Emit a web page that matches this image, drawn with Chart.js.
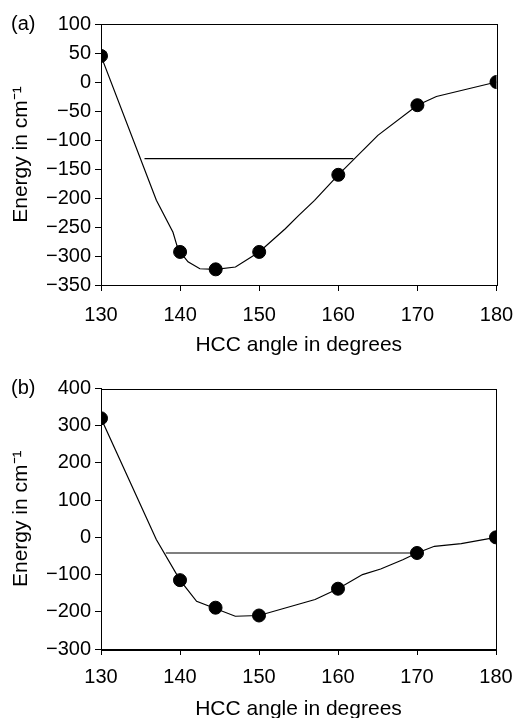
<!DOCTYPE html>
<html>
<head>
<meta charset="utf-8">
<script src="https://cdn.jsdelivr.net/npm/chart.js@4/dist/chart.umd.min.js"></script>
<style>
  body { margin: 0; background: #fff; }
  .panel { position: absolute; left: 0; width: 517px; }
  .tag { position: absolute; font: 20px "Liberation Sans", Arial, sans-serif; color: #000; }
</style>
</head>
<body>
<div class="panel" style="top:0;height:360px"><canvas id="chartA"></canvas></div>
<div class="panel" style="top:360px;height:358px"><canvas id="chartB"></canvas></div>
<div class="tag" style="left:11px;top:12px">(a)</div>
<div class="tag" style="left:11px;top:376px">(b)</div>
<script>
// (a) computed points
const anglesA = [130, 140, 144.5, 150, 160, 170, 180];
const energyA = [45, -293, -323, -293, -160, -40, 0];
// (a) smoothed curve through the points
const curveAngleA = [130, 137, 139.1, 139.6, 140, 141, 142.5, 144.5, 147, 150, 153.3, 155, 157, 160, 165, 170, 172.4, 180];
const curveEnergyA = [45, -204, -259, -282, -293, -310, -322, -323, -319, -293, -253, -230, -204, -160, -92, -40, -25, 0];
// (a) zero-point level
const levelAngleA = [135.5, 161.9];
const levelEnergyA = [-132, -132];

// (b) computed points
const anglesB = [130, 140, 144.5, 150, 160, 170, 180];
const energyB = [320, -115, -189, -210, -138, -42, 0];
const curveAngleB = [130, 137, 140, 142.1, 147, 150, 157.1, 160, 163.1, 165.4, 168.2, 170, 172.2, 175.6, 180];
const curveEnergyB = [320, -6, -115, -172, -212, -210, -167, -138, -100, -85, -60, -42, -24, -17, 0];
const levelAngleB = [138.2, 170];
const levelEnergyB = [-42, -42];

const xTicks = [130, 140, 150, 160, 170, 180];

const FONT = '"Liberation Sans", Arial, sans-serif';

function pts(xs, ys) {
  return xs.map((x, i) => ({ x: x, y: ys[i] }));
}

// box around the plot area
const frame = {
  id: 'frame',
  afterDatasetsDraw(chart) {
    const a = chart.chartArea;
    const ctx = chart.ctx;
    ctx.save();
    ctx.strokeStyle = '#000';
    ctx.lineWidth = 1;
    ctx.strokeRect(Math.round(a.left) + 0.5, Math.round(a.top) + 0.5,
      Math.round(a.right - a.left), Math.round(a.bottom - a.top));
    ctx.restore();
  }
};

function makeChart(id, p) {
  const ctx = document.getElementById(id).getContext('2d');
  return new Chart(ctx, {
    type: 'scatter',
    data: {
      datasets: [
        {
          data: pts(p.angles, p.energy),
          pointRadius: 6.5,
          pointHoverRadius: 6.5,
          pointBackgroundColor: '#000',
          pointBorderColor: '#000',
          showLine: false,
        },
        {
          data: pts(p.curveX, p.curveY),
          showLine: true,
          borderColor: '#000',
          borderWidth: 1.2,
          pointRadius: 0,
          tension: 0,
        },
        {
          data: pts(p.levelX, p.levelY),
          showLine: true,
          borderColor: '#000',
          borderWidth: 1.2,
          pointRadius: 0,
        },
      ],
    },
    options: {
      responsive: true,
      maintainAspectRatio: false,
      animation: false,
      events: [],
      layout: { padding: { top: p.top, right: p.right, left: 0, bottom: 0 } },
      plugins: { legend: { display: false }, tooltip: { enabled: false } },
      scales: {
        x: {
          type: 'linear',
          min: 130,
          max: 180,
          afterBuildTicks: (s) => { s.ticks = xTicks.map((v) => ({ value: v })); },
          afterFit: (s) => {
            s.height = p.xHeight;
            s.paddingLeft = 0;
            s.paddingRight = 0;
          },
          grid: { drawOnChartArea: false, drawTicks: true, tickLength: 6, color: '#000' },
          border: { display: true, color: '#000', width: 1 },
          ticks: { color: '#000', padding: p.xPad, font: { family: FONT, size: 20 } },
          title: {
            display: true,
            text: 'HCC angle in degrees',
            color: '#000',
            font: { family: FONT, size: 21 },
            padding: { top: 0, bottom: p.titlePad },
          },
        },
        y: {
          min: p.ymin,
          max: p.ymax,
          afterFit: (s) => {
            s.width = 101;
            s.paddingTop = 0;
            s.paddingBottom = 0;
          },
          grid: { drawOnChartArea: false, drawTicks: true, tickLength: 6, color: '#000' },
          border: { display: true, color: '#000', width: 1 },
          ticks: {
            stepSize: p.step,
            color: '#000',
            padding: 4,
            font: { family: FONT, size: 20 },
            callback: (v) => String(v).replace('-', '\u2212'),
          },
          title: {
            display: true,
            text: 'Energy in cm\u207B\u00B9',
            color: '#000',
            font: { family: FONT, size: 21 },
            padding: { top: 9, bottom: 0 },
          },
        },
      },
    },
    plugins: [frame],
  });
}

makeChart('chartA', {
  angles: anglesA, energy: energyA,
  curveX: curveAngleA, curveY: curveEnergyA,
  levelX: levelAngleA, levelY: levelEnergyA,
  ymin: -350, ymax: 100, step: 50,
  top: 24, right: 20.5, xHeight: 75, xPad: 12, titlePad: 2,
});

makeChart('chartB', {
  angles: anglesB, energy: energyB,
  curveX: curveAngleB, curveY: curveEnergyB,
  levelX: levelAngleB, levelY: levelEnergyB,
  ymin: -300, ymax: 400, step: 100,
  top: 28.5, right: 21, xHeight: 69, xPad: 10, titlePad: -4,
});
</script>
</body>
</html>
